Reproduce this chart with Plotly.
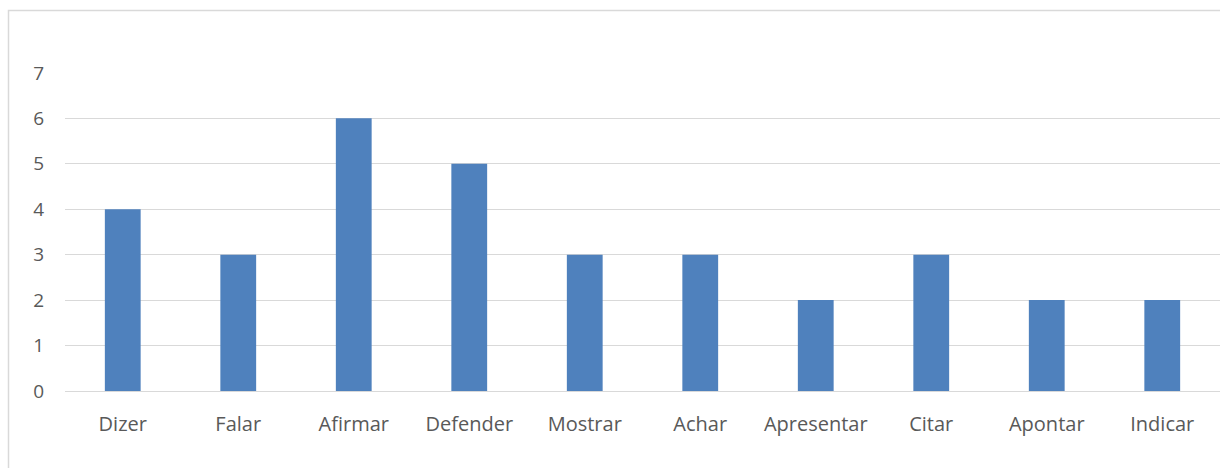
import plotly.graph_objects as go

categories = ["Dizer", "Falar", "Afirmar", "Defender", "Mostrar", "Achar",
              "Apresentar", "Citar", "Apontar", "Indicar"]
values = [4, 3, 6, 5, 3, 3, 2, 3, 2, 2]
y_ticks = [0, 1, 2, 3, 4, 5, 6, 7]

W, H = 1220, 468
L, R, T, B = 65, 0, 72, 77
pw, ph = W - L - R, H - T - B

fig = go.Figure(go.Bar(x=categories, y=values, marker_color="#4F81BD",
                       marker_line_width=0))

def px_x(x):
    return (x - L) / pw

def px_y(y):
    return (H - B - y) / ph

fig.update_layout(
    width=W, height=H,
    margin=dict(l=L, r=R, t=T, b=B),
    paper_bgcolor="white", plot_bgcolor="white",
    bargap=0.69,
    showlegend=False,
    font=dict(family="Open Sans, Liberation Sans, sans-serif", size=19, color="#595959"),
    xaxis=dict(showgrid=False, showline=True, linecolor="#D9D9D9", linewidth=1,
               ticks="", ticklabelstandoff=15, tickfont=dict(size=20)),
    yaxis=dict(range=[0, 7.02], tickvals=y_ticks, showgrid=True, gridcolor="#D9D9D9",
               gridwidth=1, zeroline=False, ticks="", ticklabelstandoff=20,
               tickfont=dict(size=19)),
    shapes=[dict(type="rect", xref="paper", yref="paper",
                 x0=px_x(8.5), x1=px_x(1230), y0=px_y(480), y1=px_y(10.5),
                 line=dict(color="#D9D9D9", width=1.5), fillcolor="rgba(0,0,0,0)",
                 layer="below")],
)

fig.write_html("out.html", config={"displayModeBar": False},
               post_script="document.body.style.margin='0';document.body.style.overflow='hidden';")
